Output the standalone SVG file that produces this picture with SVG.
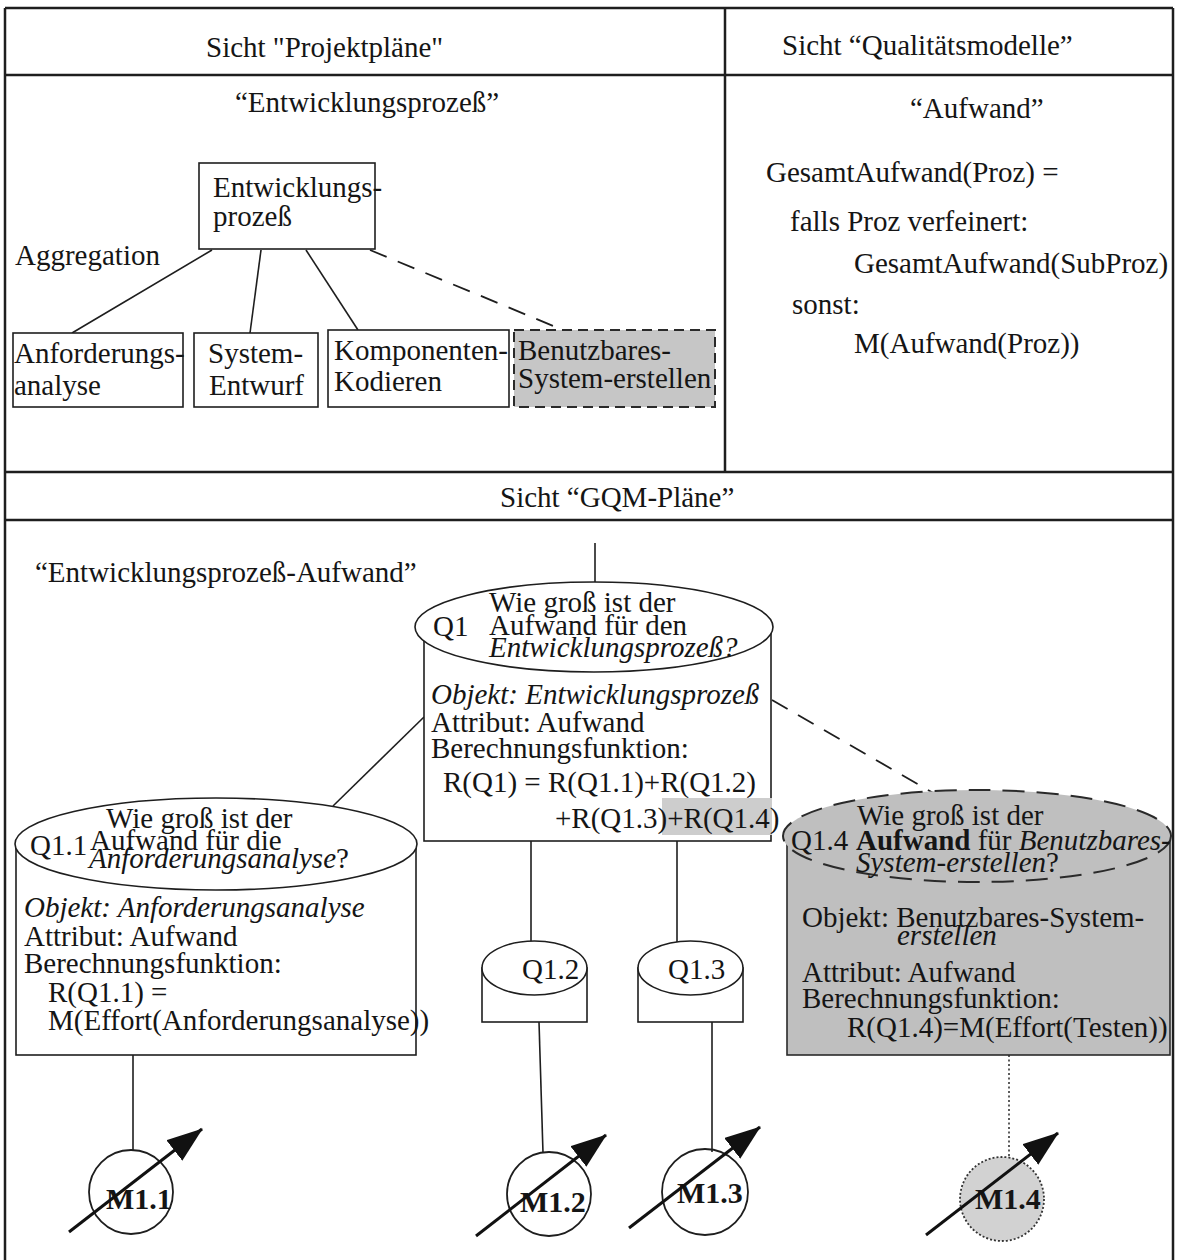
<svg xmlns="http://www.w3.org/2000/svg" width="1178" height="1260" viewBox="0 0 1178 1260">
  <style>
    .t { font-family: "Liberation Serif", "Times New Roman", serif; font-size: 29px; fill: #151515; }
    .i { font-style: italic; }
    .b { font-weight: bold; }
    .m { font-family: "Liberation Serif", "Times New Roman", serif; font-size: 30px; font-weight: bold; fill: #151515; }
    .frame { fill: none; stroke: #1e1e1e; stroke-width: 2.5; }
    .ln { fill: none; stroke: #1e1e1e; stroke-width: 1.6; }
    .dash { fill: none; stroke: #1e1e1e; stroke-width: 1.8; stroke-dasharray: 18 12; }
    .dot { fill: none; stroke: #333; stroke-width: 1.6; stroke-dasharray: 2 2.5; }
    .box { fill: #fff; stroke: #1e1e1e; stroke-width: 1.6; }
    .gbox { fill: #c6c6c6; stroke: #2a2a2a; stroke-width: 2; stroke-dasharray: 10 6; }
    .gcyl { fill: #bfbfbf; stroke: #2a2a2a; stroke-width: 1.6; }
    .gtop { fill: #bfbfbf; stroke: #2a2a2a; stroke-width: 2; stroke-dasharray: 22 12; }
    .meter { fill: none; stroke: #1e1e1e; stroke-width: 1.8; }
    .gmeter { fill: #d2d2d2; stroke: #333; stroke-width: 1.8; stroke-dasharray: 2 2; }
    .needle { stroke: #111; stroke-width: 3; fill: none; marker-end: url(#tip); }
  </style>
  <defs>
    <marker id="tip" markerUnits="userSpaceOnUse" markerWidth="38" markerHeight="28" refX="35" refY="13" orient="auto">
      <path d="M0,0 L36,13 L0,26 Z" fill="#111"/>
    </marker>
  </defs>

  <rect width="1178" height="1260" fill="#fff"/>

  <!-- panel frame -->
  <g id="frame">
    <line class="frame" x1="5" y1="8" x2="1173" y2="8"/>
    <line class="frame" x1="5" y1="8" x2="5" y2="1260"/>
    <line class="frame" x1="1173" y1="8" x2="1173" y2="1260"/>
    <line class="frame" x1="5" y1="75" x2="1173" y2="75" stroke-width="2"/>
    <line class="frame" x1="725" y1="8" x2="725" y2="472" stroke-width="2"/>
    <line class="frame" x1="5" y1="472" x2="1173" y2="472" stroke-width="3"/>
    <line class="frame" x1="5" y1="520" x2="1173" y2="520" stroke-width="2"/>
  </g>

  <!-- panel titles -->
  <g id="titles">
    <text class="t" x="206" y="57">Sicht "Projektpläne"</text>
    <text class="t" x="782" y="55">Sicht “Qualitätsmodelle”</text>
    <text class="t" x="235" y="112">“Entwicklungsprozeß”</text>
    <text class="t" x="910" y="118">“Aufwand”</text>
    <text class="t" x="500" y="507">Sicht “GQM-Pläne”</text>
    <text class="t" x="35" y="582">“Entwicklungsprozeß-Aufwand”</text>
  </g>

  <!-- quality model formula -->
  <g id="formula">
    <text class="t" x="766" y="182">GesamtAufwand(Proz) =</text>
    <text class="t" x="790" y="231">falls Proz verfeinert:</text>
    <text class="t" x="854" y="273">GesamtAufwand(SubProz)</text>
    <text class="t" x="792" y="314">sonst:</text>
    <text class="t" x="854" y="353">M(Aufwand(Proz))</text>
  </g>

  <!-- connectors -->
  <g id="connectors">
    <line class="ln" x1="212" y1="250" x2="72" y2="333"/>
    <line class="ln" x1="261" y1="250" x2="250" y2="333"/>
    <line class="ln" x1="306" y1="250" x2="358" y2="330"/>
    <line class="dash" x1="370" y1="250" x2="563" y2="330"/>
    <line class="ln" x1="595" y1="543" x2="595" y2="583"/>
    <line class="ln" x1="333" y1="806" x2="424" y2="717"/>
    <line class="dash" x1="772" y1="700" x2="935" y2="794"/>
    <line class="ln" x1="531" y1="841" x2="531" y2="942"/>
    <line class="ln" x1="677" y1="841" x2="677" y2="942"/>
    <line class="ln" x1="539" y1="1022" x2="543" y2="1153"/>
    <line class="ln" x1="712" y1="1022" x2="712" y2="1152"/>
    <line class="ln" x1="133" y1="1055" x2="133" y2="1150"/>
    <line class="dot" x1="1009" y1="1055" x2="1009" y2="1158"/>
  </g>

  <!-- process tree -->
  <g id="p-entwicklung">
    <rect class="box" x="199" y="163" width="176" height="86"/>
    <text class="t" x="213" y="197">Entwicklungs-</text>
    <text class="t" x="213" y="226">prozeß</text>
  </g>
  <text class="t" x="15" y="265">Aggregation</text>
  <g id="p-anforderung">
    <rect class="box" x="13" y="333" width="170" height="74"/>
    <text class="t" x="14" y="363">Anforderungs-</text>
    <text class="t" x="14" y="395">analyse</text>
  </g>
  <g id="p-entwurf">
    <rect class="box" x="194" y="333" width="124" height="74"/>
    <text class="t" x="208" y="363">System-</text>
    <text class="t" x="209" y="395">Entwurf</text>
  </g>
  <g id="p-kodieren">
    <rect class="box" x="328" y="330" width="181" height="77"/>
    <text class="t" x="334" y="360">Komponenten-</text>
    <text class="t" x="334" y="391">Kodieren</text>
  </g>
  <g id="p-benutzbar">
    <rect class="gbox" x="514" y="330" width="201" height="77"/>
    <text class="t" x="518" y="360">Benutzbares-</text>
    <text class="t" x="518" y="388">System-erstellen</text>
  </g>

  <!-- question Q1 -->
  <g id="q1">
    <rect class="box" x="424" y="627" width="347" height="214"/>
    <ellipse class="box" cx="594" cy="627" rx="179" ry="45"/>
    <text class="t" x="433" y="636">Q1</text>
    <text class="t" x="489" y="612">Wie groß ist der</text>
    <text class="t" x="489" y="635">Aufwand für den</text>
    <text class="t i" x="489" y="657">Entwicklungsprozeß?</text>
    <text class="t i" x="431" y="704">Objekt: Entwicklungsprozeß</text>
    <text class="t" x="431" y="732">Attribut: Aufwand</text>
    <text class="t" x="431" y="758">Berechnungsfunktion:</text>
    <text class="t" x="443" y="792">R(Q1) = R(Q1.1)+R(Q1.2)</text>
    <rect x="662" y="798" width="110" height="37" fill="#cdcdcd"/>
    <text class="t" x="555" y="828">+R(Q1.3)+R(Q1.4)</text>
  </g>

  <!-- question Q1.1 -->
  <g id="q1-1">
    <rect class="box" x="16" y="844" width="400" height="211"/>
    <ellipse class="box" cx="216" cy="844" rx="201" ry="46"/>
    <text class="t" x="30" y="855">Q1.1</text>
    <text class="t" x="106" y="828">Wie groß ist der</text>
    <text class="t" x="90" y="850">Aufwand für die</text>
    <text class="t" x="89" y="868"><tspan class="i">Anforderungsanalyse</tspan>?</text>
    <text class="t i" x="24" y="917">Objekt: Anforderungsanalyse</text>
    <text class="t" x="24" y="946">Attribut: Aufwand</text>
    <text class="t" x="24" y="973">Berechnungsfunktion:</text>
    <text class="t" x="48" y="1002">R(Q1.1) =</text>
    <text class="t" x="48" y="1030">M(Effort(Anforderungsanalyse))</text>
  </g>

  <!-- question Q1.2 -->
  <g id="q1-2">
    <rect class="box" x="482" y="968" width="105" height="54"/>
    <ellipse class="box" cx="534.5" cy="968" rx="52.5" ry="27"/>
    <text class="t" x="522" y="979">Q1.2</text>
  </g>

  <!-- question Q1.3 -->
  <g id="q1-3">
    <rect class="box" x="638" y="968" width="105" height="54"/>
    <ellipse class="box" cx="690.5" cy="968" rx="52.5" ry="27"/>
    <text class="t" x="668" y="979">Q1.3</text>
  </g>

  <!-- question Q1.4 -->
  <g id="q1-4">
    <rect class="gcyl" x="787" y="836" width="383" height="219"/>
    <ellipse class="gtop" cx="977" cy="836" rx="194" ry="46"/>
    <text class="t" x="791" y="850">Q1.4</text>
    <text class="t" x="857" y="825">Wie groß ist der</text>
    <text class="t" x="856" y="850"><tspan class="b">Aufwand</tspan> für <tspan class="i">Benutzbares-</tspan></text>
    <text class="t" x="856" y="872"><tspan class="i">System-erstellen</tspan>?</text>
    <text class="t" x="802" y="927">Objekt: Benutzbares-System-</text>
    <text class="t i" x="897" y="945">erstellen</text>
    <text class="t" x="802" y="982">Attribut: Aufwand</text>
    <text class="t" x="802" y="1008">Berechnungsfunktion:</text>
    <text class="t" x="847" y="1037">R(Q1.4)=M(Effort(Testen))</text>
  </g>

  <!-- metrics -->
  <g id="m1-1">
    <circle class="meter" cx="131" cy="1192" r="42"/>
    <text class="m" x="106" y="1209">M1.1</text>
    <line class="needle" x1="69" y1="1232" x2="202" y2="1129"/>
  </g>
  <g id="m1-2">
    <circle class="meter" cx="549" cy="1194" r="42"/>
    <text class="m" x="520" y="1212">M1.2</text>
    <line class="needle" x1="476" y1="1236" x2="606" y2="1135"/>
  </g>
  <g id="m1-3">
    <circle class="meter" cx="705" cy="1192" r="43"/>
    <text class="m" x="677" y="1203">M1.3</text>
    <line class="needle" x1="629" y1="1228" x2="760" y2="1127"/>
  </g>
  <g id="m1-4">
    <circle class="gmeter" cx="1002" cy="1199" r="42"/>
    <text class="m" x="975" y="1209">M1.4</text>
    <line class="needle" x1="926" y1="1235" x2="1058" y2="1133"/>
  </g>
</svg>
